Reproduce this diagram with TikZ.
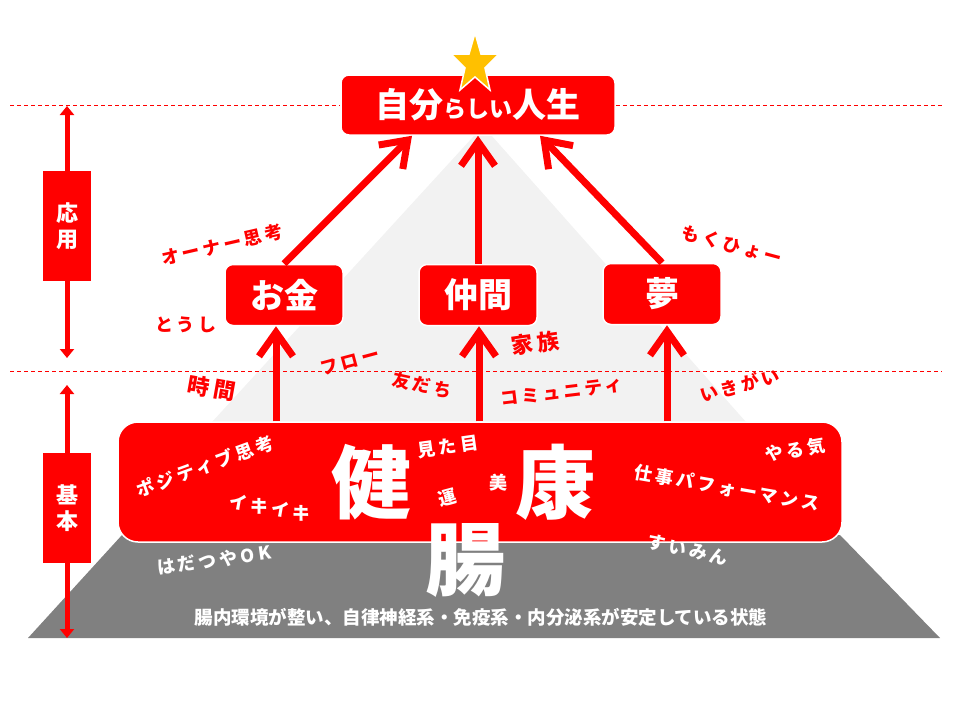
\documentclass[tikz,border=0pt]{standalone}
\usepackage{fontspec}
\usepackage{tikz}
\usetikzlibrary{arrows.meta}
\setmainfont{Noto Sans CJK JP}
\newfontfamily\hand[LetterSpace=18]{Noto Sans CJK JP}
\definecolor{pptred}{HTML}{FF0000}
\definecolor{lightpyr}{HTML}{F2F2F2}
\definecolor{darkpyr}{HTML}{808080}
\definecolor{gold}{HTML}{FFC000}

\tikzset{
    redbox/.style={rectangle, rounded corners=8pt, fill=pptred, draw=white, line width=1.5pt,
        text=white, font=\bfseries\fontsize{34}{34}\selectfont,
        minimum width=118pt, minimum height=61pt, inner sep=0pt},
    sidebox/.style={rectangle, fill=pptred, text=white, align=center,
        font=\bfseries\fontsize{22}{26}\selectfont,
        minimum width=48pt, minimum height=110pt, inner sep=0pt},
    upline/.style={draw=pptred, line width=7pt, -{Straight Barb[length=24pt,width=34pt]}},
    sideline/.style={draw=pptred, line width=5pt, -{Triangle[length=9pt,width=14pt]}},
    guide/.style={draw=pptred, line width=1pt, dash pattern=on 4pt off 3pt},
    bigword/.style={text=white, font=\bfseries\fontsize{80}{80}\selectfont, inner sep=0pt},
    handwhite/.style={text=white, font=\hand\bfseries\fontsize{18}{18}\selectfont, inner sep=0pt},
    handred/.style={text=pptred, font=\hand\bfseries\fontsize{18}{18}\selectfont, inner sep=0pt}
}

\begin{document}
\begin{tikzpicture}[x=1pt,y=-1pt]
        %    \draw [help lines] (0,0) grid [step=40] (960,720);
        \useasboundingbox (0,0) rectangle (960,720);

        \fill [lightpyr] (483,126) -- (746,422) -- (212,422) -- cycle;
        \fill [darkpyr] (28,638) -- (122,535) -- (840,535) -- (940,638) -- cycle;

        \draw [guide] (10,371) -- (942,371);

        \path node (a) [redbox, minimum width=274pt, minimum height=60pt] at (478,105)
            {自分{\fontsize{23}{23}\selectfont らしい}人生};
        \path node (b) [redbox] at (284,295) {お金};
        \path node (c) [redbox] at (478,295) {仲間};
        \path node (d) [redbox] at (662,294) {夢};
        \path node (e) [redbox, rounded corners=20pt, minimum width=724pt, minimum height=120pt] at (480,482) {};

        \coordinate (l1) at (10,105);
        \coordinate (r1) at (942,105);
        \draw [guide] (l1) -- (a.west);
        \draw [guide] (a.east) -- (r1);

        \draw [upline] (b.north) -- ([xshift=-66pt]a.south);
        \draw [upline] (c.north) -- (a.south);
        \draw [upline] (d.north) -- ([xshift=62pt]a.south);

        \draw [upline] ([xshift=-8pt]b.south |- e.north) -- ([xshift=-8pt]b.south);
        \draw [upline] ([xshift=1pt]c.south |- e.north) -- ([xshift=1pt]c.south);
        \draw [upline] ([xshift=5pt]d.south |- e.north) -- ([xshift=5pt]d.south);

        \draw [fill=gold, draw=white, line width=1.5pt] (475,33) -- (481,54) -- (499,54) -- (485,68)
            -- (490,90) -- (475,77) -- (460,90) -- (465,68) -- (451,54) -- (469,54) -- cycle;

        \path node (f) [sidebox] at (67,226) {応\\用};
        \path node (g) [sidebox] at (67,508) {基\\本};
        \coordinate (f1) at (67,106);
        \coordinate (f2) at (67,358);
        \coordinate (g1) at (67,385);
        \coordinate (g2) at (67,638);
        \draw [sideline] (f.north) -- (f1);
        \draw [sideline] (f.south) -- (f2);
        \draw [sideline] (g.north) -- (g1);
        \draw [sideline] (g.south) -- (g2);

        \path node (h) [bigword] at (371,482) {健};
        \path node (i) [bigword] at (555,482) {康};
        \path node (j) [bigword] at (465,560) {腸};

        \path node (k) [handwhite, rotate=8] at (448,447) {見た目};
        \path node (l) [handwhite, rotate=15] at (447,498) {運};
        \path node (m) [handwhite] at (498,483) {美};
        \path node (n) [handwhite, rotate=20] at (205,466) {ポジティブ思考};
        \path node (o) [handwhite, rotate=-10] at (270,508) {イキイキ};
        \path node (p) [handwhite, rotate=8] at (214,560) {はだつやOK};
        \path node (q) [handwhite, rotate=10] at (795,450) {やる気};
        \path node (r) [handwhite, rotate=-10] at (727,488) {仕事パフォーマンス};
        \path node (s) [handwhite, rotate=-12] at (688,550) {すいみん};
        \path node (t) [text=white, font=\bfseries\fontsize{18.5}{18.5}\selectfont, inner sep=0pt] at (481,617)
            {腸内環境が整い、自律神経系・免疫系・内分泌系が安定している状態};

        \path node (u) [handred, rotate=13] at (222,245) {オーナー思考};
        \path node (v) [handred] at (186,325) {とうし};
        \path node (w) [handred, rotate=15] at (350,362) {フロー};
        \path node (x) [handred, rotate=-10, font=\hand\bfseries\fontsize{22}{22}\selectfont] at (212,388) {時間};
        \path node (y) [handred, rotate=-12] at (422,385) {友だち};
        \path node (z) [handred, rotate=8, font=\hand\bfseries\fontsize{22}{22}\selectfont] at (535,343) {家族};
        \path node (aa) [handred, rotate=7] at (562,392) {コミュニティ};
        \path node (ab) [handred, rotate=15] at (740,385) {いきがい};
        \path node (ac) [handred, rotate=-15] at (732,245) {もくひょー};

    \end{tikzpicture}
\end{document}
